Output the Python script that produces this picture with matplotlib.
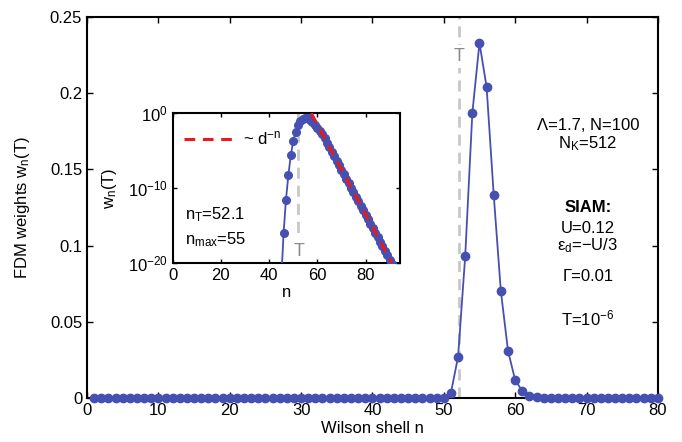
import matplotlib
matplotlib.use("Agg")
import matplotlib.pyplot as plt
import numpy as np

plt.rcParams['font.family'] = ['Liberation Sans', 'DejaVu Sans']
plt.rcParams['font.size'] = 12
plt.rcParams['mathtext.fontset'] = 'custom'
plt.rcParams['mathtext.rm'] = 'Liberation Sans'
plt.rcParams['mathtext.it'] = 'Liberation Sans'

# main panel: weights w_n(T) for Wilson shells 1..80
shells = list(range(1, 81))
weights = [0.0] * 49 + [0.0003, 0.0035, 0.027, 0.093, 0.187, 0.233, 0.204, 0.133,
                        0.070, 0.031, 0.0118, 0.0046, 0.0015, 0.0005, 0.0002] + [0.0] * 16

# inset: log10 of w_n(T), shells 45..91
inset_n = list(range(45, 92))
inset_log = [-22.5, -16.0, -11.5, -8.2, -5.6, -3.7, -2.46, -1.57, -1.03, -0.73,
             -0.63, -0.69, -0.88, -1.15, -1.51, -1.93, -2.34, -2.82, -3.32,
             -3.92, -4.52, -5.12, -5.72, -6.32, -6.92, -7.52, -8.12, -8.72,
             -9.32, -9.92, -10.52, -11.12, -11.72, -12.32, -12.92, -13.52,
             -14.12, -14.72, -15.32, -15.92, -16.52, -17.12, -17.72, -18.32,
             -18.92, -19.52, -20.12]
fit_n = [57.5, 91.0]
fit_log = [0.0, -20.0]

n_T = 52.1

blue = '#4650b0'
red = '#e8191f'
gray = '#c8c8c8'

fig = plt.figure(figsize=(6.82, 4.42), dpi=100)
ax = fig.add_axes([0.1276, 0.0995, 0.837, 0.862])

ax.axvline(n_T, color=gray, lw=2, ls=(0, (4, 2.5)), zorder=1)
ax.text(n_T, 0.224, 'T', color='#8a8a8a', ha='center', va='center', fontsize=13,
        bbox=dict(facecolor='white', edgecolor='none', pad=2), zorder=2)
ax.plot(shells, weights, '-o', color=blue, lw=1.3, ms=6, clip_on=False, zorder=3)

ax.set_xlim(0, 80)
ax.set_ylim(0, 0.25)
ax.set_xticks(range(0, 81, 10))
ax.set_yticks([0, 0.05, 0.1, 0.15, 0.2, 0.25])
ax.set_yticklabels(['0', '0.05', '0.1', '0.15', '0.2', '0.25'])
ax.tick_params(direction='in', top=True, right=True, length=4, width=1)
for s in ax.spines.values():
    s.set_linewidth(1.5)
ax.set_xlabel('Wilson shell n', labelpad=2)
ax.set_ylabel(r'FDM weights w$_\mathrm{n}$(T)', labelpad=13)

tx = 70.2
ax.text(tx, 0.179, 'Λ=1.7, N=100', ha='center', va='center')
ax.text(tx, 0.167, r'N$_\mathrm{K}$=512', ha='center', va='center')
ax.text(tx, 0.125, 'SIAM:', ha='center', va='center', fontweight='bold')
ax.text(tx, 0.1115, 'U=0.12', ha='center', va='center')
ax.text(tx, 0.100, r'ε$_\mathrm{d}$=−U/3', ha='center', va='center')
ax.text(tx, 0.080, 'Γ=0.01', ha='center', va='center')
ax.text(tx, 0.0525, r'T=10$^{-6}$', ha='center', va='center')

# inset
ins = fig.add_axes([0.2532, 0.4043, 0.334, 0.3394])
inset_w = 10.0 ** np.array(inset_log)
ins.plot([n_T, n_T], [1e0, 10 ** -16.8], color=gray, lw=2, ls=(0, (4, 2.5)), zorder=1)
ins.text(n_T + 0.5, 10 ** -18.4, 'T', color='#8a8a8a', ha='center', va='center', fontsize=13)
ins.plot(inset_n, inset_w, '-o', color=blue, lw=1.3, ms=5.5, zorder=3)
ins.plot(fit_n, 10.0 ** np.array(fit_log), color=red, lw=2.2, ls=(0, (3.5, 2.5)),
         zorder=4, label=r'~ d$^{-\mathrm{n}}$')
ins.set_yscale('log')
ins.set_xlim(0, 94.5)
ins.set_ylim(1e-20, 1e0)
ins.set_xticks([0, 20, 40, 60, 80])
ins.set_yticks([1e-20, 1e-10, 1e0])
ins.yaxis.set_minor_locator(matplotlib.ticker.NullLocator())
ins.tick_params(direction='in', top=True, right=True, length=3, width=1)
for s in ins.spines.values():
    s.set_linewidth(1.5)
ins.set_xlabel('n', labelpad=1)
ins.set_ylabel(r'w$_\mathrm{n}$(T)', labelpad=6)
ins.legend(loc='upper left', frameon=False, handlelength=3.2, handletextpad=0.3,
           borderaxespad=0.3, bbox_to_anchor=(0.0, 0.97))
ins.text(5, 10 ** -13.5, r'n$_\mathrm{T}$=52.1', ha='left', va='center')
ins.text(5, 10 ** -16.8, r'n$_\mathrm{max}$=55', ha='left', va='center')

fig.savefig('out.png', dpi=100)
